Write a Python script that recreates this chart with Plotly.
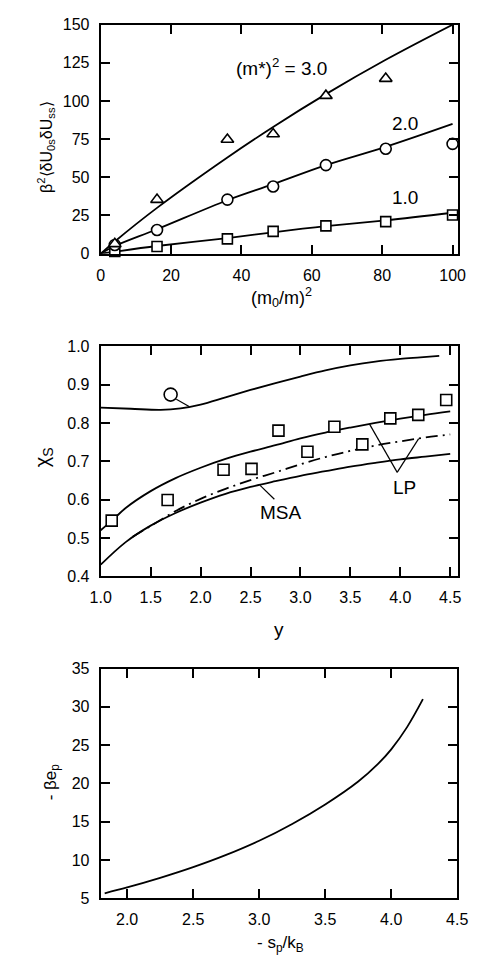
import plotly.graph_objects as go

W, H = 484, 975

# ---------------- Panel 1 data ----------------
m_ratio_sq = [4, 16, 36, 49, 64, 81, 100]
sq_vals_1 = [1.5, 4.7, 9.7, 14.6, 18.2, 21.0, 25.3]
circ_vals_2 = [5.7, 15.5, 35.4, 44.0, 58.0, 68.7, 71.9]
tri_x = [4, 16, 36, 49, 64, 81]
tri_vals_3 = [6.4, 35.4, 74.8, 78.4, 103.5, 114.7]

fit_x = [0, 4, 16, 36, 49, 64, 81, 100]
fit_1 = [0, 1.3, 5.0, 10.2, 14.0, 18.0, 21.8, 26.8]
fit_2 = [0, 5.0, 16.0, 35.0, 45.5, 58.0, 70.0, 85.0]
fit_3 = [0, 8.0, 30.0, 63.0, 83.0, 104.5, 127.0, 150.0]

# ---------------- Panel 2 data ----------------
o_x = [1.0, 1.3, 1.6, 1.8, 2.0, 2.25, 2.5, 2.75, 3.0, 3.25, 3.5, 3.75, 4.0, 4.2, 4.39]
o_y = [0.840, 0.837, 0.834, 0.838, 0.848, 0.867, 0.886, 0.904, 0.921, 0.937, 0.950, 0.960, 0.967, 0.971, 0.975]

lp_x = [1.0, 1.12, 1.25, 1.5, 1.75, 2.0, 2.25, 2.5, 2.75, 3.0, 3.25, 3.5, 3.75, 4.0, 4.25, 4.5]
lp_y = [0.520, 0.547, 0.578, 0.622, 0.656, 0.683, 0.706, 0.725, 0.742, 0.760, 0.775, 0.788, 0.800, 0.811, 0.821, 0.830]

lpd_x = [1.32, 1.5, 1.75, 2.0, 2.25, 2.5, 2.75, 3.0, 3.25, 3.5, 3.75, 4.0, 4.25, 4.5]
lpd_y = [0.503, 0.531, 0.570, 0.602, 0.628, 0.651, 0.671, 0.692, 0.711, 0.727, 0.741, 0.752, 0.762, 0.770]

msa_x = [1.0, 1.25, 1.5, 1.75, 2.0, 2.25, 2.5, 2.75, 3.0, 3.25, 3.5, 3.75, 4.0, 4.25, 4.5]
msa_y = [0.430, 0.489, 0.532, 0.565, 0.592, 0.615, 0.633, 0.648, 0.662, 0.674, 0.686, 0.696, 0.705, 0.712, 0.719]

sim_x = [1.11, 1.67, 2.23, 2.51, 2.78, 3.07, 3.34, 3.62, 3.90, 4.18, 4.46]
sim_y = [0.545, 0.599, 0.678, 0.680, 0.780, 0.725, 0.790, 0.744, 0.812, 0.821, 0.860]

o_marker_x = [1.70]
o_marker_y = [0.874]

# ---------------- Panel 3 data ----------------
sp_x = [1.83, 2.0, 2.25, 2.5, 2.75, 3.0, 3.25, 3.5, 3.75, 3.9, 4.0, 4.12, 4.24]
be_y = [5.64, 6.4, 7.65, 9.05, 10.65, 12.5, 14.7, 17.25, 20.25, 22.55, 24.45, 27.35, 31.0]

FONT = "Liberation Sans, Arial, Helvetica, sans-serif"
LW = 1.8

fig = go.Figure()

def line_trace(x, y, xa, ya, dash=None):
    ln = dict(color="black", width=LW, shape="spline", smoothing=1.0)
    if dash:
        ln["dash"] = dash
    fig.add_trace(go.Scatter(x=x, y=y, mode="lines", line=ln, xaxis=xa, yaxis=ya,
                             showlegend=False, hoverinfo="skip"))

# Panel 1
for fy in (fit_1, fit_2, fit_3):
    line_trace(fit_x, fy, "x", "y")
mk = dict(color="white", line=dict(color="black", width=1.6))
fig.add_trace(go.Scatter(x=m_ratio_sq, y=sq_vals_1, mode="markers", marker=dict(symbol="square", size=10, **mk),
                         xaxis="x", yaxis="y", showlegend=False, cliponaxis=False))
fig.add_trace(go.Scatter(x=m_ratio_sq, y=circ_vals_2, mode="markers", marker=dict(symbol="circle", size=11, **mk),
                         xaxis="x", yaxis="y", showlegend=False, cliponaxis=False))
fig.add_trace(go.Scatter(x=tri_x, y=tri_vals_3, mode="markers", marker=dict(symbol="triangle-up", size=11, **mk),
                         xaxis="x", yaxis="y", showlegend=False, cliponaxis=False))

# Panel 2
line_trace(o_x, o_y, "x2", "y2")
line_trace(lp_x, lp_y, "x2", "y2")
line_trace(lpd_x, lpd_y, "x2", "y2", dash="12px,5px,2px,5px")
line_trace(msa_x, msa_y, "x2", "y2")
fig.add_trace(go.Scatter(x=sim_x, y=sim_y, mode="markers", marker=dict(symbol="square", size=11, **mk),
                         xaxis="x2", yaxis="y2", showlegend=False, cliponaxis=False))
fig.add_trace(go.Scatter(x=o_marker_x, y=o_marker_y, mode="markers", marker=dict(symbol="circle", size=13, **mk),
                         xaxis="x2", yaxis="y2", showlegend=False))

# Panel 3
line_trace(sp_x, be_y, "x3", "y3")

def ax(**kw):
    d = dict(showline=True, linecolor="black", linewidth=2, mirror="ticks", ticks="inside", ticklen=9,
             tickwidth=1.5, tickcolor="black", showgrid=False, zeroline=False,
             tickfont=dict(family=FONT, size=16, color="black"), ticklabelstandoff=6)
    d.update(kw)
    return d

xd = [94 / W, 468.5 / W]
def yd(top, bot):
    return [1 - bot / H, 1 - top / H]

fig.update_layout(
    width=W, height=H, margin=dict(l=0, r=0, t=0, b=0),
    paper_bgcolor="white", plot_bgcolor="white",
    font=dict(family=FONT, color="black"),
    xaxis=ax(domain=xd, range=[0, 101.6], tickvals=[0, 20, 40, 60, 80, 100], anchor="y"),
    yaxis=ax(domain=yd(17, 250), range=[0, 150], tickvals=[0, 25, 50, 75, 100, 125, 150], anchor="x"),
    xaxis2=ax(domain=xd, range=[1.0, 4.58], tickvals=[1.0, 1.5, 2.0, 2.5, 3.0, 3.5, 4.0, 4.5], tickformat=".1f", anchor="y2"),
    yaxis2=ax(domain=yd(344.3, 578.3), range=[0.4, 1.0], tickvals=[0.4, 0.5, 0.6, 0.7, 0.8, 0.9, 1.0], tickformat=".1f", anchor="x2"),
    xaxis3=ax(domain=[94 / W, 467.5 / W], range=[1.8, 4.5], tickvals=[2.0, 2.5, 3.0, 3.5, 4.0, 4.5], tickformat=".1f", anchor="y3"),
    yaxis3=ax(domain=yd(672.3, 906), range=[5, 35], tickvals=[5, 10, 15, 20, 25, 30, 35], anchor="x3"),
)

# leader lines panel 2
leaders = [
    (1.757, 0.862, 1.885, 0.843),
    (2.596, 0.637, 2.739, 0.601),
    (3.692, 0.797, 3.969, 0.671),
    (3.969, 0.671, 4.184, 0.759),
]
for x0, y0, x1, y1 in leaders:
    fig.add_shape(type="line", x0=x0, y0=y0, x1=x1, y1=y1, xref="x2", yref="y2",
                  line=dict(color="black", width=1.2))

def ann(text, x, y, xref="paper", yref="paper", size=17, angle=0):
    fig.add_annotation(text=text, x=x, y=y, xref=xref, yref=yref, showarrow=False,
                       font=dict(family=FONT, size=size, color="black"), textangle=angle,
                       xanchor="center", yanchor="middle")

# in-plot labels
ann("(m*)<sup>2</sup> = 3.0", 51.5, 122.0, "x", "y", size=19)
ann("2.0", 86.6, 85.0, "x", "y", size=19)
ann("1.0", 86.6, 36.7, "x", "y", size=19)
ann("MSA", 2.807, 0.565, "x2", "y2", size=19)
ann("LP", 4.04, 0.631, "x2", "y2", size=19)

# axis titles
ann("(m<sub>0</sub>/m)<sup>2</sup>", 283 / W, 1 - 295 / H, size=18)
ann("β<sup>2</sup>⟨δU<sub>0s</sub>δU<sub>ss</sub>⟩", 36 / W, 1 - 142 / H, size=16, angle=-90)
ann("χ<sub>S</sub>", 34 / W, 1 - 456.7 / H, size=20, angle=-90)
ann("y", 281 / W, 1 - 633 / H, size=19)
ann("- βe<sub>p</sub>", 43 / W, 1 - 788 / H, size=17, angle=-90)
ann("- s<sub>p</sub>/k<sub>B</sub>", 282 / W, 1 - 953 / H, size=17)

fig.write_html("out.html")
